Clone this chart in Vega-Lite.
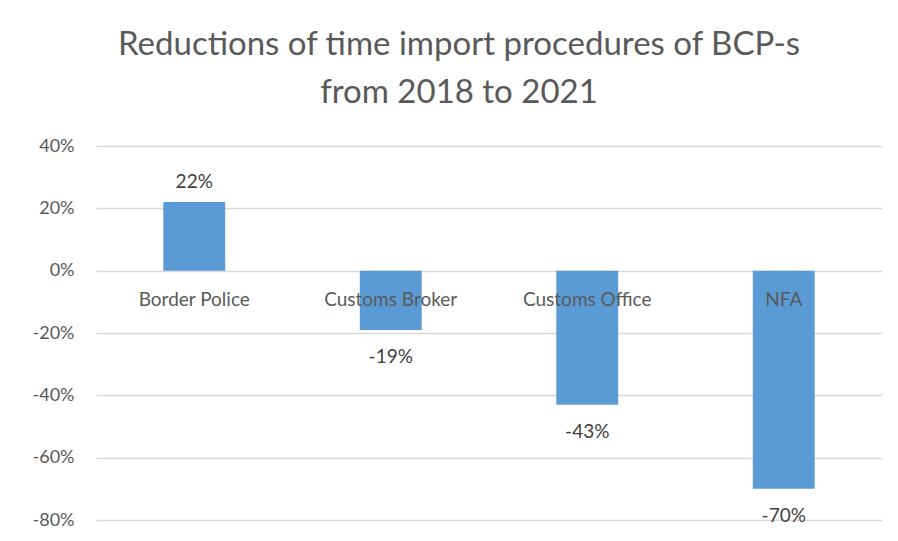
{
  "$schema": "https://vega.github.io/schema/vega-lite/v6.json",
  "width": 786,
  "height": 374,
  "autosize": "none",
  "padding": {"left": 96, "top": 146, "right": 16, "bottom": 21},
  "background": "white",
  "title": {
    "text": ["Reductions of time import procedures of BCP-s", "from 2018 to 2021"],
    "fontSize": 33,
    "font": "Lato",
    "fontWeight": "normal",
    "color": "#595959",
    "lineHeight": 48,
    "anchor": "middle",
    "dx": -30,
    "offset": 27
  },
  "config": {
    "view": {"stroke": null},
    "font": "Lato",
    "locale": {
      "number": {"decimal": ".", "thousands": ",", "grouping": [3], "currency": ["$", ""], "minus": "-"}
    }
  },
  "data": {
    "values": [
      {"category": "Border Police", "value": 0.22},
      {"category": "Customs Broker", "value": -0.19},
      {"category": "Customs Office", "value": -0.43},
      {"category": "NFA", "value": -0.70}
    ]
  },
  "encoding": {
    "x": {
      "field": "category",
      "type": "nominal",
      "sort": null,
      "scale": {"paddingInner": 0.685, "paddingOuter": 0.3425},
      "axis": null
    }
  },
  "layer": [
    {
      "mark": {"type": "bar", "color": "#5B9BD5"},
      "encoding": {
        "y": {
          "field": "value",
          "type": "quantitative",
          "scale": {"domain": [-0.8, 0.4], "nice": false},
          "axis": {
            "title": null,
            "values": [-0.8, -0.6, -0.4, -0.2, 0, 0.2, 0.4],
            "format": ".0%",
            "domain": false,
            "ticks": false,
            "labelPadding": 22,
            "labelFontSize": 18,
            "labelColor": "#595959",
            "gridColor": "#d9d9d9",
            "gridWidth": 1.5
          }
        }
      }
    },
    {
      "transform": [{"filter": "datum.value > 0"}],
      "mark": {"type": "text", "fontSize": 19, "color": "#404040", "baseline": "middle", "dy": -20},
      "encoding": {
        "y": {"field": "value", "type": "quantitative"},
        "text": {"field": "value", "type": "quantitative", "format": ".0%"}
      }
    },
    {
      "transform": [{"filter": "datum.value < 0"}],
      "mark": {"type": "text", "fontSize": 19, "color": "#404040", "baseline": "middle", "dy": 27},
      "encoding": {
        "y": {"field": "value", "type": "quantitative"},
        "text": {"field": "value", "type": "quantitative", "format": ".0%"}
      }
    },
    {
      "mark": {"type": "text", "fontSize": 19, "color": "#595959", "baseline": "middle", "dy": 29},
      "encoding": {
        "y": {"datum": 0, "type": "quantitative"},
        "text": {"field": "category"}
      }
    }
  ]
}
